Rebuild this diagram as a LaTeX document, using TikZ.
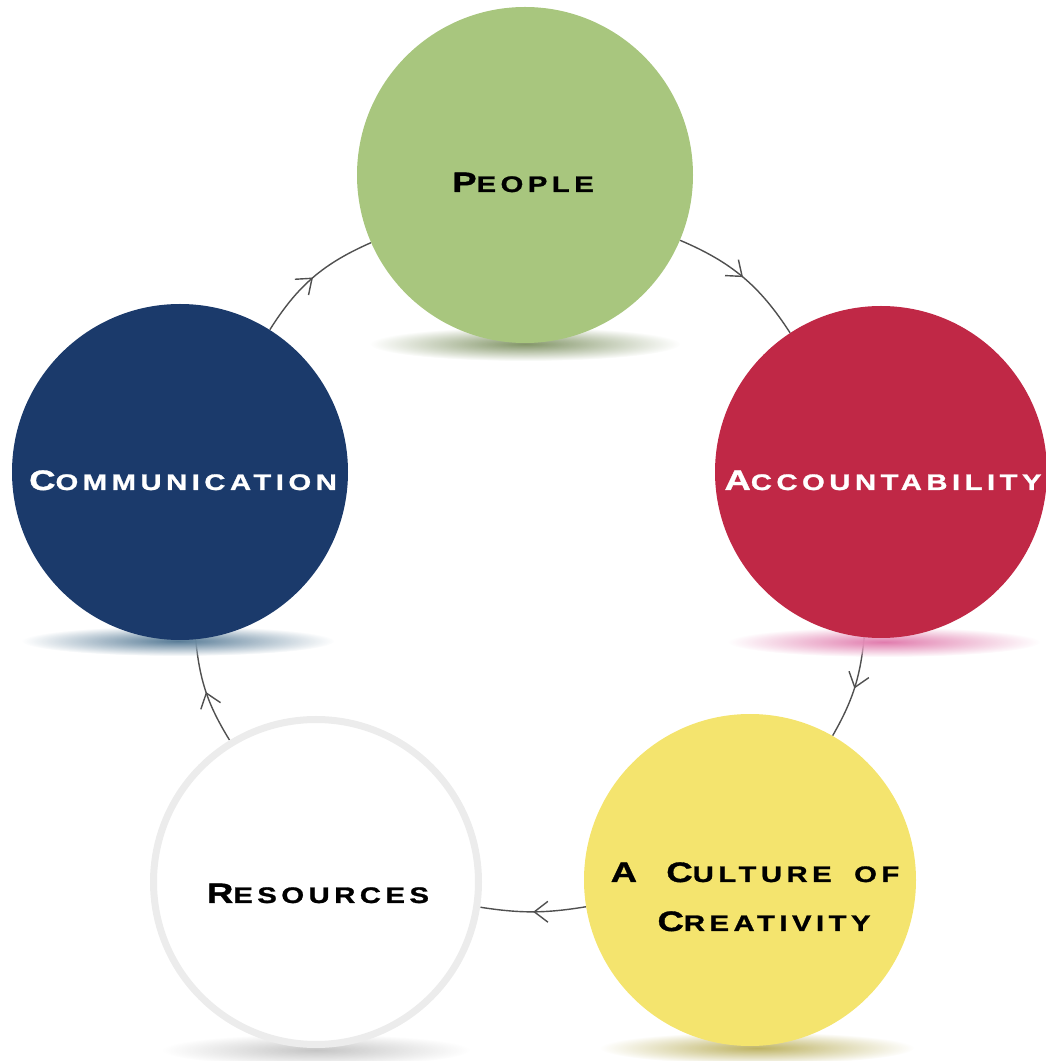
\documentclass[tikz,border=0pt]{standalone}
\usepackage{fontspec}
\setmainfont{Liberation Sans}
\newfontfamily\labelfont[FakeStretch=1.3,LetterSpace=20,BoldFeatures={FakeBold=1.2}]{Liberation Sans}
\usetikzlibrary{positioning,arrows.meta,decorations.markings,fadings}

\definecolor{peoplegreen}{RGB}{168,198,126}
\definecolor{accred}{RGB}{192,40,70}
\definecolor{commnavy}{RGB}{27,58,107}
\definecolor{cultyellow}{RGB}{244,228,110}
\definecolor{resring}{RGB}{236,236,236}
\definecolor{linkgray}{RGB}{80,80,80}
\definecolor{commshade}{RGB}{70,110,140}
\definecolor{accshade}{RGB}{222,110,165}

% big first letter, smaller capitals after it
\newcommand{\capword}[2]{{\fontsize{20}{24}\selectfont #1}#2}

\tikzfading[name=softshadow, inner color=transparent!0, outer color=transparent!100]

\begin{document}
\begin{tikzpicture}[x=0.025cm, y=0.025cm,
  stage/.style={circle, inner sep=0pt, minimum size=#1},
  stagetext/.style={anchor=base, inner sep=0pt, font=\labelfont\bfseries\fontsize{16}{20}\selectfont},
  shadow/.style={fill=#1, path fading=softshadow, fill opacity=0.9,
    preaction={fill=white, path fading=softshadow, fill opacity=1}},
  link/.style={draw=linkgray, line width=1pt, bend left=#1,
    decoration={markings, mark=at position 0.5 with {\arrow{Straight Barb[length=3.4mm,width=5.2mm]}}},
    postaction=decorate}
]
\useasboundingbox (0,0) rectangle (1046,1061);

% the five stages (outlines only, for the links)
\node[stage=8.4cm] (people) at (525,886) {};
\node[stage=8.3cm] (acc) at (881,589) {};
\node[stage=8.3cm] (cult) at (750,181) {};
\node[stage=8.3cm] (res) at (316,179) {};
\node[stage=8.4cm] (comm) at (180,589) {};

% cycle
\draw[link=17] (people) to (acc);
\draw[link=12] (acc) to (cult);
\draw[link=9] (cult) to (res);
\draw[link=13] (res) to (comm);
\draw[link=17] (comm) to (people);

% soft shadows under the circles
\path[shadow={peoplegreen!70!black}] (525,717) ellipse (155 and 17);
\path[shadow=commshade] (178,420) ellipse (156 and 15);
\path[shadow=accshade] (884,419) ellipse (156 and 15);
\path[shadow={black!25}] (316,11) ellipse (154 and 16);
\path[shadow={cultyellow!75!black}] (757,13) ellipse (157 and 16);

% the discs
\fill[peoplegreen] (people) circle (168);
\fill[accred] (acc) circle (166);
\fill[cultyellow] (cult) circle (166);
\draw[fill=white, draw=resring, line width=0.175cm] (res) circle (162.5);
\fill[commnavy] (comm) circle (168);

% their labels
\node[stagetext] (peopletext) at (523,869) {\capword{P}{EOPLE}};
\node[stagetext, text=white] (acctext) at (883,571) {\capword{A}{CCOUNTABILITY}};
\node[stagetext, text=white] (commtext) at (183,571) {\capword{C}{OMMUNICATION}};
\node[stagetext] (restext) at (318,158) {\capword{R}{ESOURCES}};
\node[stagetext] (culttext) at (755,179) {\capword{A}{}\hspace{1.3em}\capword{C}{ULTURE}\hspace{1em}OF};
\node[stagetext] (creattext) at (764,130) {\capword{C}{REATIVITY}};
\end{tikzpicture}
\end{document}
